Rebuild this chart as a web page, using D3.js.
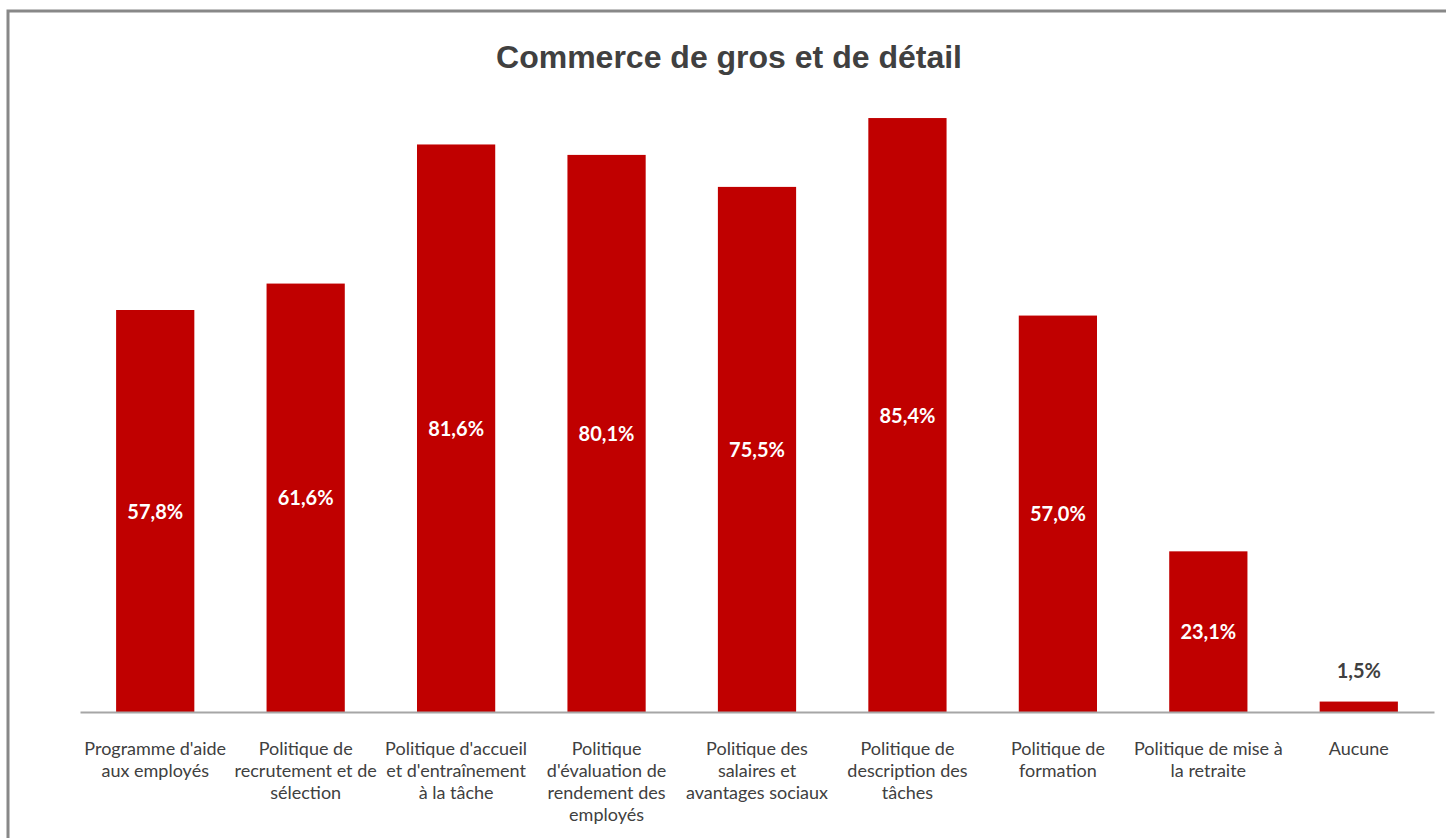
<!DOCTYPE html>
<html>
<head>
<meta charset="utf-8">
<script src="https://cdn.jsdelivr.net/npm/d3@7"></script>
<style>
  html, body { margin: 0; padding: 0; background: #fff; }
  svg { display: block; }
</style>
</head>
<body>
<svg id="chart" width="1446" height="838"></svg>
<script>
// Policies in place — wholesale and retail trade
const title = "Commerce de gros et de détail";
const categories = [
  "Programme d'aide\naux employés",
  "Politique de\nrecrutement et de\nsélection",
  "Politique d'accueil\net d'entraînement\nà la tâche",
  "Politique\nd'évaluation de\nrendement des\nemployés",
  "Politique des\nsalaires et\navantages sociaux",
  "Politique de\ndescription des\ntâches",
  "Politique de\nformation",
  "Politique de mise à\nla retraite",
  "Aucune"
];
const values = [57.8, 61.6, 81.6, 80.1, 75.5, 85.4, 57.0, 23.1, 1.5];

const svg = d3.select("#chart");
const W = 1446, H = 838;
const plot = { left: 80, right: 1434, baseline: 712 };
const labelFont = "Lato, 'Open Sans', sans-serif";

// Chart frame
svg.append("rect")
  .attr("x", 8).attr("y", 11)
  .attr("width", W + 10).attr("height", H + 10)
  .attr("fill", "#fff")
  .attr("stroke", "#888").attr("stroke-width", 3);

// Title
svg.append("text")
  .attr("x", 729).attr("y", 68)
  .attr("text-anchor", "middle")
  .attr("font-family", "'Liberation Sans', Arial, sans-serif")
  .attr("font-weight", "bold")
  .attr("font-size", 32)
  .attr("fill", "#404040")
  .text(title);

const x = d3.scaleBand()
  .domain(d3.range(categories.length))
  .range([plot.left, plot.right])
  .paddingInner(0.48)
  .paddingOuter(0.24);

const y = d3.scaleLinear()
  .domain([0, 100])
  .range([plot.baseline, plot.baseline - 695.5]);

// Bars
svg.append("g").selectAll("rect")
  .data(values)
  .join("rect")
  .attr("x", (d, i) => x(i))
  .attr("y", d => y(d))
  .attr("width", x.bandwidth())
  .attr("height", d => y(0) - y(d))
  .attr("fill", "#C00000");

// Category axis
const axis = svg.append("g")
  .attr("transform", `translate(0,${plot.baseline})`)
  .call(d3.axisBottom(x).tickSize(0).tickFormat(""));
axis.select(".domain").attr("stroke", "#a6a6a6").attr("stroke-width", 2);

// Wrapped category labels
const catLabels = svg.append("g")
  .selectAll("text")
  .data(categories)
  .join("text")
  .attr("text-anchor", "middle")
  .attr("font-family", labelFont)
  .attr("font-size", 18)
  .attr("fill", "#404040")
  .attr("transform", (d, i) => `translate(${x(i) + x.bandwidth() / 2},${plot.baseline + 42.5})`);
catLabels.selectAll("tspan")
  .data(d => d.split("\n"))
  .join("tspan")
  .attr("x", 0)
  .attr("dy", (d, j) => j === 0 ? 0 : 22.3)
  .text(d => d);

// Value labels: centred inside the bar, or above it when the bar is too short
const fmt = v => d3.format(".1f")(v).replace(".", ",") + "%";
svg.append("g").selectAll("text")
  .data(values)
  .join("text")
  .attr("text-anchor", "middle")
  .attr("font-family", labelFont)
  .attr("font-weight", "bold")
  .attr("font-size", 20)
  .attr("x", (d, i) => x(i) + x.bandwidth() / 2)
  .attr("y", d => (y(0) - y(d) > 40) ? (y(d) + y(0)) / 2 + 7.5 : y(d) - 24)
  .attr("fill", d => (y(0) - y(d) > 40) ? "#fff" : "#404040")
  .text(d => fmt(d));
</script>
</body>
</html>
